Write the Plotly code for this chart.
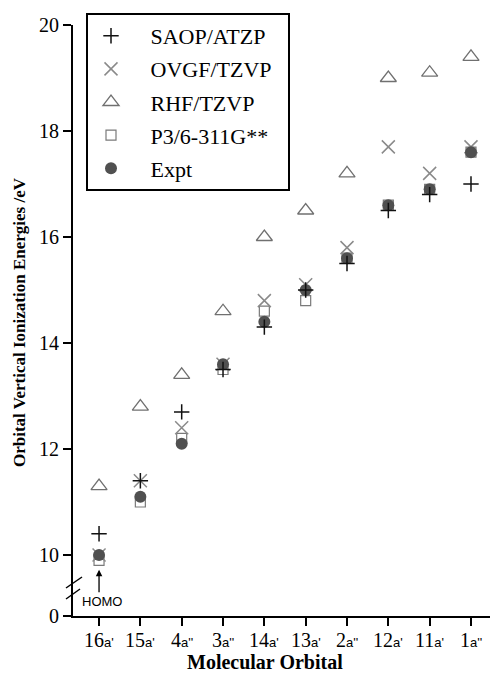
import plotly.graph_objects as go

orbitals = ["16a'", "15a'", "4a''", "3a''", "14a'", "13a'", "2a''", "12a'", "11a'", "1a''"]
saop = [10.4, 11.4, 12.7, 13.5, 14.3, 15.0, 15.5, 16.5, 16.8, 17.0]
ovgf = [10.0, 11.4, 12.4, 13.6, 14.8, 15.1, 15.8, 17.7, 17.2, 17.7]
rhf = [11.3, 12.8, 13.4, 14.6, 16.0, 16.5, 17.2, 19.0, 19.1, 19.4]
p3 = [9.9, 11.0, 12.2, 13.5, 14.6, 14.8, 15.6, 16.6, 16.9, 17.6]
expt = [10.0, 11.1, 12.1, 13.6, 14.4, 15.0, 15.6, 16.6, 16.9, 17.6]
yticks = [10, 12, 14, 16, 18, 20]


def lab(o):
    num = o.rstrip("a'")
    return f"{num}<span style='font-size:13px;font-family:Liberation Sans'>{o[len(num):]}</span>"


serif = "Liberation Serif"
fig = go.Figure()

lpad = "&nbsp;&nbsp;&nbsp;"
rpad = "&nbsp;&nbsp;"
series = [
    ("RHF/TZVP", rhf, dict(symbol="triangle-up-open", size=14, color="#707070", line=dict(width=1.3)), 3),
    ("P3/6-311G**", p3, dict(symbol="square-open", size=10, color="#7a7a7a", line=dict(width=1.2)), 4),
    ("OVGF/TZVP", ovgf, dict(symbol="x-thin-open", size=13, color="#8a8a8a", line=dict(width=1.5)), 2),
    ("Expt", expt, dict(symbol="circle", size=12, color="#505050", line=dict(width=0)), 5),
    ("SAOP/ATZP", saop, dict(symbol="cross-thin-open", size=11, color="#111111", line=dict(width=1.5)), 1),
]
for name, vals, mk, rank in series:
    fig.add_trace(go.Scatter(
        x=orbitals, y=vals, mode="markers", name=lpad + name + rpad, marker=mk,
        legendrank=rank, legendgroup=name, xaxis="x", yaxis="y",
    ))

# invisible trace on the lower (broken) axis segment so it is drawn
fig.add_trace(go.Scatter(x=[orbitals[0]], y=[0], mode="markers", marker=dict(opacity=0),
                         showlegend=False, hoverinfo="skip", xaxis="x", yaxis="y2"))

plot_top, plot_bot, plot_left, plot_right = 25, 616, 73, 490
H = plot_bot - plot_top
W = plot_right - plot_left
d = 18 / H
ylow = 10 - (598 - 555) / 53

fig.update_layout(
    width=492, height=673,
    margin=dict(l=plot_left, r=492 - plot_right, t=plot_top, b=673 - plot_bot),
    paper_bgcolor="white", plot_bgcolor="white",
    font=dict(family=serif, size=18, color="black"),
    showlegend=True,
    legend=dict(
        x=(86 - plot_left) / W, y=1 + (plot_top - 13) / H, xanchor="left", yanchor="top",
        bordercolor="black", borderwidth=2, bgcolor="white",
        font=dict(family=serif, size=22, color="black"),
        tracegroupgap=1.5, itemwidth=36,
    ),
    xaxis=dict(
        type="category", categoryarray=orbitals, range=[-0.63, 9.46], anchor="y2", automargin=False,
        showline=True, linecolor="black", linewidth=2,
        ticks="outside", ticklen=8, tickwidth=1.5, tickcolor="black",
        showgrid=False, zeroline=False, showticklabels=False,
    ),
    yaxis=dict(
        domain=[d, 1], range=[ylow, 20], anchor="x", automargin=False,
        showline=True, linecolor="black", linewidth=2,
        ticks="outside", ticklen=8, tickwidth=1.5, tickcolor="black",
        tickvals=yticks, showgrid=False, zeroline=False,
        tickfont=dict(family=serif, size=20),
    ),
    yaxis2=dict(
        domain=[0, d], range=[-0.001, 0.34], anchor="x", automargin=False,
        showline=True, linecolor="black", linewidth=2,
        ticks="outside", ticklen=8, tickwidth=1.5, tickcolor="black",
        tickvals=[0], showgrid=False, zeroline=False,
        tickfont=dict(family=serif, size=20),
    ),
)


def px(xp):
    return (xp - plot_left) / W


def py(yp):
    return (plot_bot - yp) / H


# x tick labels (placed on the category scale)
for o in orbitals:
    fig.add_annotation(
        x=o, y=py(640), xref="x", yref="paper", text=lab(o), showarrow=False,
        font=dict(family=serif, size=20, color="black"), xanchor="center", yanchor="middle",
    )

for (x0, y0, x1, y1) in [(66, 588, 82, 577), (66, 599, 80, 589)]:
    fig.add_shape(type="line", xref="paper", yref="paper",
                  x0=px(x0), y0=py(y0), x1=px(x1), y1=py(y1),
                  line=dict(color="black", width=1.5))

# axis titles
fig.add_annotation(
    x=px(19), y=py(322), xref="paper", yref="paper", textangle=-90,
    text="<b>Orbital Vertical Ionization Energies /eV</b>", showarrow=False,
    font=dict(family=serif, size=17, color="black"), xanchor="center", yanchor="middle",
)
fig.add_annotation(
    x=px(265), y=py(662), xref="paper", yref="paper",
    text="<b>Molecular Orbital</b>", showarrow=False,
    font=dict(family=serif, size=20, color="black"), xanchor="center", yanchor="middle",
)

# HOMO arrow and label
fig.add_annotation(
    x=orbitals[0], y=9.72, xref="x", yref="y", text="",
    showarrow=True, arrowhead=2, arrowsize=1, arrowwidth=1.3, arrowcolor="black",
    ax=0, ay=24,
)
fig.add_annotation(
    x=px(102), y=py(601), xref="paper", yref="paper", text="HOMO", showarrow=False,
    font=dict(family="Liberation Sans", size=13, color="black"), xanchor="center", yanchor="middle",
)

fig.write_html("out.html")
